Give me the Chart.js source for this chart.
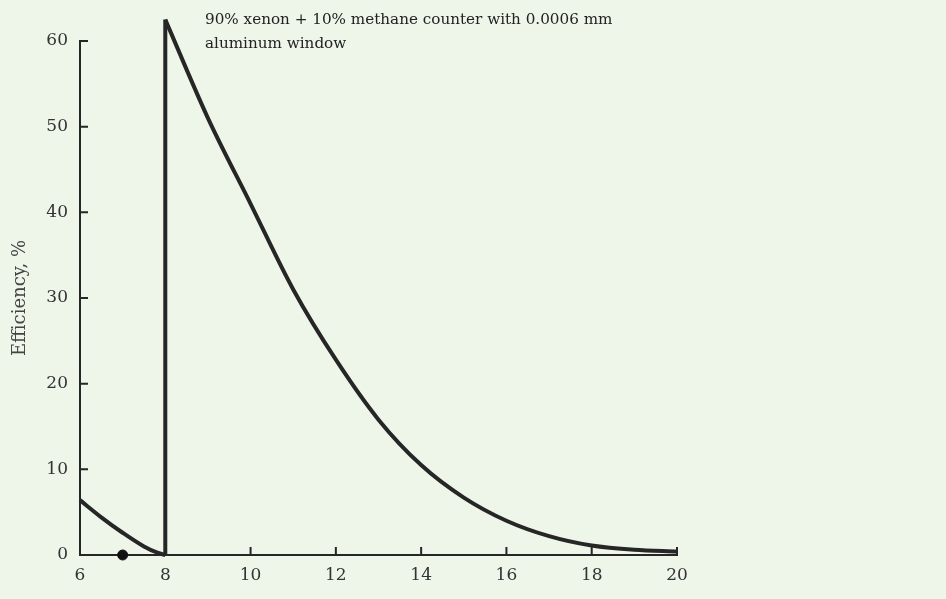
<!DOCTYPE html>
<html>
<head>
<meta charset="utf-8">
<script src="https://cdn.jsdelivr.net/npm/chart.js@4.4.1/dist/chart.umd.min.js"></script>
<style>
  html, body { margin: 0; padding: 0; background: #eef5e9; }
  #wrap { width: 946px; height: 599px; }
</style>
</head>
<body>
<div id="wrap"><canvas id="eff"></canvas></div>
<script>
// energy (keV) vs efficiency (%)
const lowEnergy = [6, 6.5, 7, 7.5, 7.8, 8];
const lowEff = [6.4, 4.4, 2.6, 1.0, 0.3, 0];
const edgeEnergy = [8, 8];
const edgeEff = [0, 62.5];
const highEnergy = [8, 9, 10, 11, 12, 13, 14, 15, 16, 17, 18, 19, 20];
const highEff = [62.5, 51, 41, 31, 22.8, 15.8, 10.5, 6.7, 4.0, 2.2, 1.1, 0.6, 0.4];
const markerEnergy = [7];
const markerEff = [0];
const noteLines = ['90% xenon + 10% methane counter with 0.0006 mm', 'aluminum window'];

const ink = '#262626';
const serif = "'DejaVu Serif', 'Liberation Serif', serif";

const pts = (xs, ys) => xs.map((x, i) => ({ x, y: ys[i] }));

const innerTicks = {
  id: 'innerTicks',
  afterDraw(chart) {
    const { ctx, scales: { x, y } } = chart;
    ctx.save();
    ctx.strokeStyle = ink;
    ctx.lineWidth = 2;
    ctx.beginPath();
    for (let v = 10; v <= 60; v += 10) {
      const py = y.getPixelForValue(v);
      ctx.moveTo(x.left, py);
      ctx.lineTo(x.left + 8, py);
    }
    for (let v = 10; v <= 20; v += 2) {
      const px = x.getPixelForValue(v);
      ctx.moveTo(px, y.bottom);
      ctx.lineTo(px, y.bottom - 8);
    }
    ctx.stroke();
    // note text
    ctx.fillStyle = '#222';
    ctx.font = '15.2px ' + serif;
    ctx.textBaseline = 'alphabetic';
    ctx.fillText(noteLines[0], 205, 24);
    ctx.fillText(noteLines[1], 205, 48);
    ctx.restore();
  }
};

new Chart(document.getElementById('eff').getContext('2d'), {
  type: 'line',
  data: {
    datasets: [
      { data: pts(lowEnergy, lowEff), borderColor: ink, borderWidth: 4, pointRadius: 0, cubicInterpolationMode: 'monotone' },
      { data: pts(edgeEnergy, edgeEff), borderColor: ink, borderWidth: 4, pointRadius: 0, tension: 0 },
      { data: pts(highEnergy, highEff), borderColor: ink, borderWidth: 4, pointRadius: 0, cubicInterpolationMode: 'monotone', borderJoinStyle: 'round' },
      { type: 'scatter', data: pts(markerEnergy, markerEff), backgroundColor: '#111', borderColor: '#111', pointRadius: 5 }
    ]
  },
  options: {
    responsive: true,
    maintainAspectRatio: false,
    animation: false,
    clip: false,
    layout: { padding: { top: 41, right: 269, left: 0, bottom: 0 } },
    plugins: { legend: { display: false }, tooltip: { enabled: false } },
    scales: {
      x: {
        type: 'linear',
        min: 6, max: 20,
        afterFit: s => { s.height = 44; },
        grid: { display: false, drawTicks: false },
        border: { display: true, color: ink, width: 2 },
        ticks: { stepSize: 2, padding: 10, color: '#333', font: { family: serif, size: 17 } }
      },
      y: {
        min: 0, max: 60,
        afterFit: s => { s.width = 80; },
        grid: { display: false, drawTicks: false },
        border: { display: true, color: ink, width: 2 },
        ticks: { stepSize: 10, padding: 12, color: '#333', font: { family: serif, size: 17 } },
        title: { display: true, text: 'Efficiency, %', color: '#444', font: { family: serif, size: 18 }, padding: { top: 10, bottom: 0 } }
      }
    }
  },
  plugins: [innerTicks]
});
</script>
</body>
</html>
